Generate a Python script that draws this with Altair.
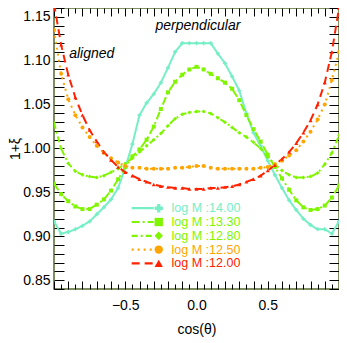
import altair as alt
import pandas as pd

# ---------------- data ----------------
cos_theta = [round(-1 + 0.05 * i, 2) for i in range(41)]

series_names = ["log M :14.00", "log M :13.30", "log M :12.80", "log M :12.50", "log M :12.00"]

xi_14_00 = [0.917, 0.903, 0.905, 0.908, 0.912, 0.917, 0.925, 0.933, 0.942, 0.955,
            0.978, 1.005, 1.038, 1.052, 1.062, 1.075, 1.092, 1.110, 1.120, 1.120,
            1.120, 1.120, 1.120, 1.108, 1.097, 1.082, 1.066, 1.040, 1.018, 1.003,
            0.986, 0.970, 0.955, 0.941, 0.930, 0.920, 0.913, 0.908, 0.908, 0.903, 0.917]

xi_13_30 = [0.960, 0.948, 0.940, 0.934, 0.931, 0.931, 0.936, 0.942, 0.952, 0.965,
            0.979, 0.991, 0.999, 1.010, 1.025, 1.045, 1.064, 1.076, 1.084, 1.090,
            1.093, 1.090, 1.085, 1.080, 1.075, 1.068, 1.055, 1.038, 1.022, 1.008,
            0.993, 0.979, 0.966, 0.953, 0.941, 0.933, 0.930, 0.931, 0.935, 0.944, 0.958]

xi_12_80 = [1.029, 1.000, 0.983, 0.974, 0.970, 0.968, 0.967, 0.969, 0.973, 0.977,
            0.983, 0.989, 0.996, 1.003, 1.010, 1.017, 1.026, 1.034, 1.039, 1.041,
            1.042, 1.042, 1.040, 1.035, 1.030, 1.024, 1.018, 1.013, 1.007, 1.000,
            0.990, 0.982, 0.975, 0.970, 0.967, 0.967, 0.968, 0.972, 0.982, 0.995, 1.015]

xi_12_50 = [1.135, 1.085, 1.056, 1.038, 1.024, 1.013, 1.003, 0.995, 0.989, 0.984,
            0.980, 0.978, 0.978, 0.977, 0.977, 0.977, 0.977, 0.978, 0.978, 0.979,
            0.980, 0.980, 0.978, 0.977, 0.977, 0.977, 0.977, 0.977, 0.977, 0.978,
            0.979, 0.982, 0.986, 0.992, 0.998, 1.008, 1.019, 1.033, 1.050, 1.078, 1.110]

xi_12_00 = [1.165, 1.118, 1.084, 1.058, 1.038, 1.021, 1.008, 0.996, 0.987, 0.979,
            0.973, 0.969, 0.965, 0.962, 0.959, 0.957, 0.956, 0.955, 0.955, 0.954,
            0.954, 0.954, 0.955, 0.955, 0.956, 0.957, 0.959, 0.962, 0.965, 0.969,
            0.975, 0.981, 0.988, 0.996, 1.006, 1.018, 1.032, 1.050, 1.075, 1.110, 1.160]

annotation_texts = ["perpendicular", "aligned"]

# ---------------- styles ----------------
colors = ["#76EEC6", "#7FF500", "#7FF500", "#FFA500", "#FF2200"]
dashes = [[1, 0], [8, 3, 2, 3], [6, 3, 2, 3], [2, 4], [8, 5]]
shapes = ["cross", "square", "diamond", "circle", "triangle-up"]
FONT = "Liberation Sans"
FRAME = "#556B2F"

PLOT_W, PLOT_H = 285, 281
PAD_L = 46

all_series = [xi_14_00, xi_13_30, xi_12_80, xi_12_50, xi_12_00]
rows = []
for name, vals in zip(series_names, all_series):
    for x, y in zip(cos_theta, vals):
        rows.append({"series": name, "cos": x, "xi": y})
df = pd.DataFrame(rows)

# legend table (placement in data units)
LX0, LX1, MX, TX, LY0, DY = -0.455, -0.30, -0.265, -0.175, 0.932, 0.0157
legend_df = pd.DataFrame({
    "series": series_names,
    "lx0": [LX0] * 5, "lx1": [LX1] * 5, "mx": [MX] * 5, "tx": [TX] * 5,
    "ly": [LY0 - i * DY for i in range(5)],
})
ann_df = pd.DataFrame({"text": annotation_texts, "x": [0.01, -0.735], "y": [1.139, 1.108]})

x_scale = alt.Scale(domain=[-1, 1], nice=False, zero=False)
y_scale = alt.Scale(domain=[0.84, 1.16], nice=False, zero=False)
color_scale = alt.Scale(domain=series_names, range=colors)
dash_scale = alt.Scale(domain=series_names, range=dashes)
shape_scale = alt.Scale(domain=series_names, range=shapes)

x_major = [round(-1 + 0.1 * i, 1) for i in range(21)]
x_minor = [round(-0.95 + 0.1 * i, 2) for i in range(20)]
y_ticks = [round(0.84 + 0.01 * i, 2) for i in range(33)]

common = dict(domain=False, grid=False, tickColor="black", tickWidth=1,
              labelFont=FONT, labelFontSize=14, labelColor="black",
              titleFont=FONT, titleFontSize=14, titleFontWeight="normal", titleColor="black",
              labelOverlap=False, labelFlush=False)

ax_bottom_major = alt.Axis(orient="bottom", values=x_major, tickSize=8, offset=-8,
                           labelPadding=9, title="cos(θ)", titlePadding=10,
                           labelExpr="abs(datum.value*2 - round(datum.value*2)) < 1e-6 && abs(datum.value) < 0.9 ? format(datum.value, '.1f') : ''",
                           **common)
ax_bottom_minor = alt.Axis(orient="bottom", values=x_minor, tickSize=5, offset=-5,
                           labels=False, title=None, **common)
ax_top_major = alt.Axis(orient="top", values=x_major, tickSize=8, offset=-8,
                        labels=False, title=None, **common)
ax_top_minor = alt.Axis(orient="top", values=x_minor, tickSize=5, offset=-5,
                        labels=False, title=None, **common)
ax_left = alt.Axis(orient="left", values=y_ticks, tickSize=10, offset=-10,
                   labelPadding=4, title="1+ξ",
                   titleX=-(PAD_L + 10) + 7, titleY=PLOT_H / 2,
                   titleAngle=-90, titleAlign="center", titleBaseline="middle",
                   labelExpr="abs(datum.value*20 - round(datum.value*20)) < 1e-6 && datum.value > 0.845 && datum.value < 1.155 ? format(datum.value, '.2f') : ''",
                   **common)
ax_right = alt.Axis(orient="right", values=y_ticks, tickSize=10, offset=-10,
                    labels=False, title=None, **common)

base = alt.Chart(df)

lines = base.mark_line(strokeWidth=2, clip=True, strokeCap="butt").encode(
    x=alt.X("cos:Q", scale=x_scale, axis=ax_bottom_major),
    y=alt.Y("xi:Q", scale=y_scale, axis=ax_left),
    color=alt.Color("series:N", scale=color_scale, legend=None),
    strokeDash=alt.StrokeDash("series:N", scale=dash_scale, legend=None),
)

points = base.mark_point(filled=True, size=16, clip=True, opacity=1).encode(
    x=alt.X("cos:Q", scale=x_scale, axis=ax_bottom_minor),
    y=alt.Y("xi:Q", scale=y_scale, axis=ax_right),
    color=alt.Color("series:N", scale=color_scale, legend=None),
    shape=alt.Shape("series:N", scale=shape_scale, legend=None),
)

ann = alt.Chart(ann_df).mark_text(font=FONT, fontSize=14, fontStyle="italic",
                                   color="black", align="center", baseline="middle").encode(
    x=alt.X("x:Q", scale=x_scale, axis=ax_top_major),
    y=alt.Y("y:Q", scale=y_scale, axis=None),
    text="text:N",
)

leg_lines = alt.Chart(legend_df).mark_rule(strokeWidth=2.2, strokeCap="butt").encode(
    x=alt.X("lx0:Q", scale=x_scale, axis=ax_top_minor),
    x2="lx1:Q",
    y=alt.Y("ly:Q", scale=y_scale, axis=None),
    color=alt.Color("series:N", scale=color_scale, legend=None),
    strokeDash=alt.StrokeDash("series:N", scale=dash_scale, legend=None),
)

leg_marks = alt.Chart(legend_df).mark_point(filled=True, size=70, opacity=1).encode(
    x=alt.X("mx:Q", scale=x_scale, axis=None),
    y=alt.Y("ly:Q", scale=y_scale, axis=None),
    color=alt.Color("series:N", scale=color_scale, legend=None),
    shape=alt.Shape("series:N", scale=shape_scale, legend=None),
)

leg_text = alt.Chart(legend_df).mark_text(font=FONT, fontSize=12.5, align="left",
                                          baseline="middle").encode(
    x=alt.X("tx:Q", scale=x_scale, axis=None),
    y=alt.Y("ly:Q", scale=y_scale, axis=None),
    text="series:N",
    color=alt.Color("series:N", scale=color_scale, legend=None),
)

chart = alt.layer(lines, points, ann, leg_lines, leg_marks, leg_text).resolve_axis(
    x="independent", y="independent"
).properties(
    width=PLOT_W, height=PLOT_H,
    padding={"left": PAD_L, "top": 0, "right": 0, "bottom": 52},
    autosize=alt.AutoSizeParams(type="none"),
).configure_view(stroke=FRAME, strokeWidth=1.5).configure_axis(grid=False)

chart.save("out.html", embed_options={"renderer": "svg", "actions": False})
